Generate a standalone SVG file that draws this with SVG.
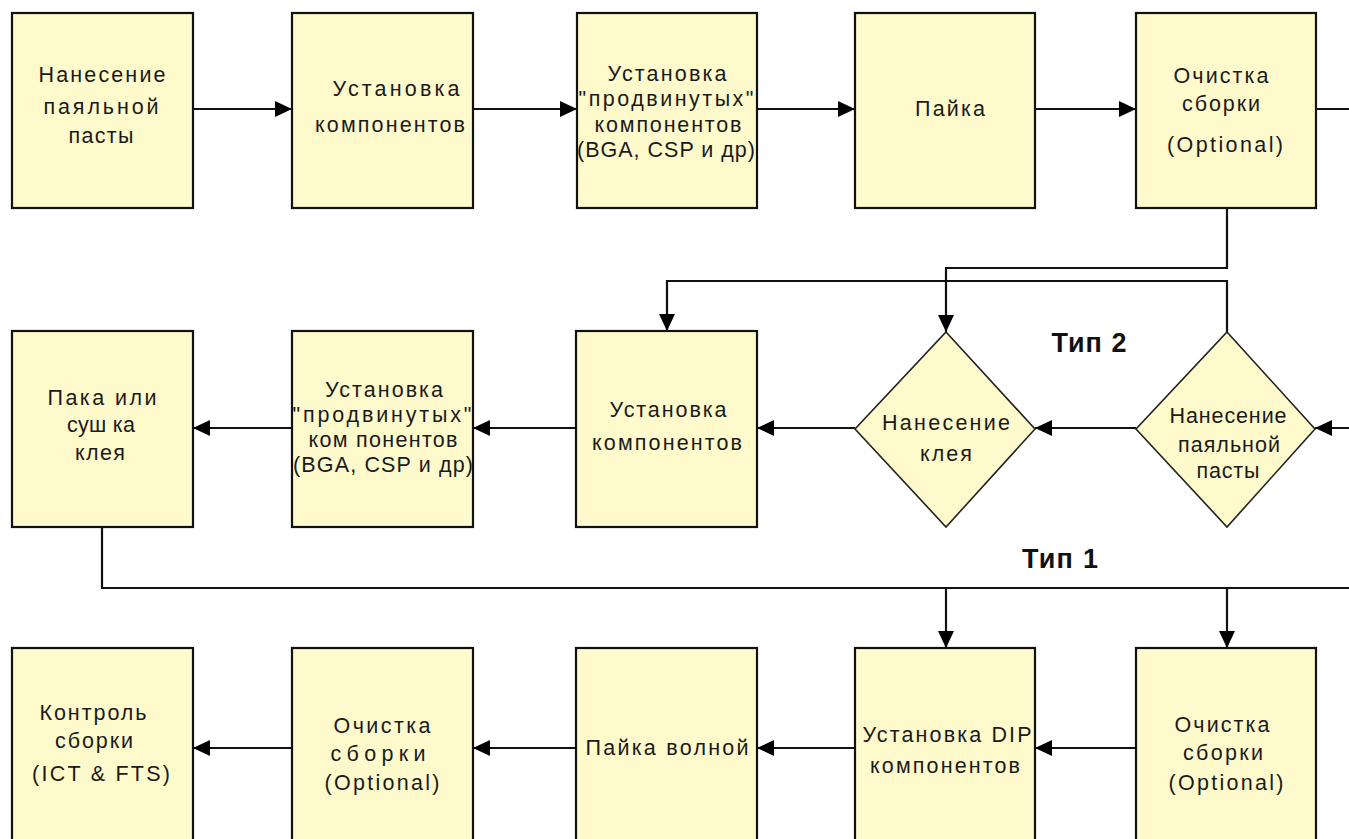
<svg xmlns="http://www.w3.org/2000/svg" width="1349" height="839" viewBox="0 0 1349 839">
<style>
.box{fill:#FEFACB;stroke:#111;stroke-width:2.2}
.dia{fill:#FEFACB;stroke:#222;stroke-width:1.6}
.t{font-family:"Liberation Sans",Arial,sans-serif;font-size:21.5px;fill:#1a1a1a;text-anchor:middle}
.lbl{font-family:"Liberation Sans",Arial,sans-serif;font-size:27px;font-weight:bold;fill:#111;text-anchor:middle}
.c{fill:none;stroke:#111;stroke-width:2.2}
</style>
<defs>
<marker id="ah" markerUnits="userSpaceOnUse" markerWidth="18" markerHeight="18" refX="17" refY="9" orient="auto">
<path d="M0,1 L17,9 L0,17 z" fill="#000"/>
</marker>
</defs>
<rect width="1349" height="839" fill="#fff"/>

<g id="connectors">
<line class="c" x1="193" y1="109" x2="292" y2="109" marker-end="url(#ah)"/>
<line class="c" x1="473" y1="109" x2="577" y2="109" marker-end="url(#ah)"/>
<line class="c" x1="757" y1="109" x2="855" y2="109" marker-end="url(#ah)"/>
<line class="c" x1="1035" y1="109" x2="1136" y2="109" marker-end="url(#ah)"/>
<line class="c" x1="1316" y1="109" x2="1349" y2="109"/>
<polyline class="c" points="1227,208 1227,268 946,268 946,332" marker-end="url(#ah)"/>
<polyline class="c" points="1227,332 1227,281 667,281 667,331" marker-end="url(#ah)"/>
<line class="c" x1="1349" y1="428" x2="1315" y2="428" marker-end="url(#ah)"/>
<line class="c" x1="1136" y1="428" x2="1035" y2="428" marker-end="url(#ah)"/>
<line class="c" x1="855" y1="428" x2="757" y2="428" marker-end="url(#ah)"/>
<line class="c" x1="576" y1="428" x2="473" y2="428" marker-end="url(#ah)"/>
<line class="c" x1="292" y1="428" x2="193" y2="428" marker-end="url(#ah)"/>
<polyline class="c" points="102,527 102,588 1349,588"/>
<line class="c" x1="946" y1="588" x2="946" y2="648" marker-end="url(#ah)"/>
<line class="c" x1="1227" y1="588" x2="1227" y2="648" marker-end="url(#ah)"/>
<line class="c" x1="1136" y1="748" x2="1035" y2="748" marker-end="url(#ah)"/>
<line class="c" x1="855" y1="748" x2="757" y2="748" marker-end="url(#ah)"/>
<line class="c" x1="576" y1="748" x2="473" y2="748" marker-end="url(#ah)"/>
<line class="c" x1="292" y1="748" x2="193" y2="748" marker-end="url(#ah)"/>
</g>

<g id="n1"><rect class="box" x="12" y="13" width="181" height="195"/>
<text class="t" x="102" y="82" textLength="127">Нанесение</text>
<text class="t" x="101" y="114" textLength="115">паяльной</text>
<text class="t" x="101" y="143" textLength="65">пасты</text></g>
<g id="n2"><rect class="box" x="292" y="13" width="181" height="195"/>
<text class="t" x="396" y="96" textLength="127">Установка</text>
<text class="t" x="390" y="132" textLength="150">компонентов</text></g>
<g id="n3"><rect class="box" x="577" y="13" width="180" height="195"/>
<text class="t" x="667" y="81" textLength="119">Установка</text>
<text class="t" x="666" y="106" textLength="175">"продвинутых"</text>
<text class="t" x="668" y="132" textLength="147">компонентов</text>
<text class="t" x="666" y="157" textLength="178">(BGA, CSP и др)</text></g>
<g id="n4"><rect class="box" x="855" y="13" width="180" height="195"/>
<text class="t" x="950" y="116" textLength="70">Пайка</text></g>
<g id="n5"><rect class="box" x="1136" y="13" width="180" height="195"/>
<text class="t" x="1221" y="83" textLength="95">Очистка</text>
<text class="t" x="1221" y="111" textLength="78">сборки</text>
<text class="t" x="1225" y="152" textLength="116">(Optional)</text></g>

<g id="n6"><rect class="box" x="12" y="331" width="181" height="196"/>
<text class="t" x="102" y="405" textLength="109">Пака или</text>
<text class="t" x="101" y="432" textLength="68">суш ка</text>
<text class="t" x="100" y="460" textLength="50">клея</text></g>
<g id="n7"><rect class="box" x="292" y="331" width="181" height="196"/>
<text class="t" x="384" y="397" textLength="118">Установка</text>
<text class="t" x="382" y="422" textLength="179">"продвинутых"</text>
<text class="t" x="383" y="447" textLength="149">ком понентов</text>
<text class="t" x="383" y="472" textLength="180">(BGA, CSP и др)</text></g>
<g id="n8"><rect class="box" x="576" y="331" width="181" height="196"/>
<text class="t" x="668" y="417" textLength="117">Установка</text>
<text class="t" x="667" y="450" textLength="150">компонентов</text></g>
<g id="n9"><polygon class="dia" points="946,332 1035,429 946,527 855,429"/>
<text class="t" x="946" y="430" textLength="128">Нанесение</text>
<text class="t" x="946" y="461" textLength="52">клея</text></g>
<g id="n10"><polygon class="dia" points="1227,332 1315,429 1227,527 1136,429"/>
<text class="t" x="1228" y="423" font-size="20" textLength="117">Нанесение</text>
<text class="t" x="1229" y="452" font-size="20" textLength="102">паяльной</text>
<text class="t" x="1228" y="478" font-size="20" textLength="63">пасты</text></g>

<g id="n11"><rect class="box" x="12" y="648" width="181" height="220"/>
<text class="t" x="93" y="720" textLength="107">Контроль</text>
<text class="t" x="94" y="748" textLength="78">сборки</text>
<text class="t" x="101" y="781" textLength="138">(ICT &amp; FTS)</text></g>
<g id="n12"><rect class="box" x="292" y="648" width="181" height="220"/>
<text class="t" x="382" y="733" textLength="97">Очистка</text>
<text class="t" x="378" y="761" textLength="95">сборки</text>
<text class="t" x="382" y="790" textLength="115">(Optional)</text></g>
<g id="n13"><rect class="box" x="576" y="648" width="181" height="220"/>
<text class="t" x="667" y="755" textLength="163">Пайка волной</text></g>
<g id="n14"><rect class="box" x="855" y="648" width="180" height="220"/>
<text class="t" x="947" y="742" textLength="169">Установка DIP</text>
<text class="t" x="945" y="773" textLength="150">компонентов</text></g>
<g id="n15"><rect class="box" x="1136" y="648" width="180" height="220"/>
<text class="t" x="1222" y="732" textLength="95">Очистка</text>
<text class="t" x="1223" y="760" textLength="80">сборки</text>
<text class="t" x="1226" y="790" textLength="115">(Optional)</text></g>

<g id="labels">
<text class="lbl" x="1089" y="352" textLength="75">Тип 2</text>
<text class="lbl" x="1060" y="568" textLength="76">Тип 1</text>
</g>
</svg>
